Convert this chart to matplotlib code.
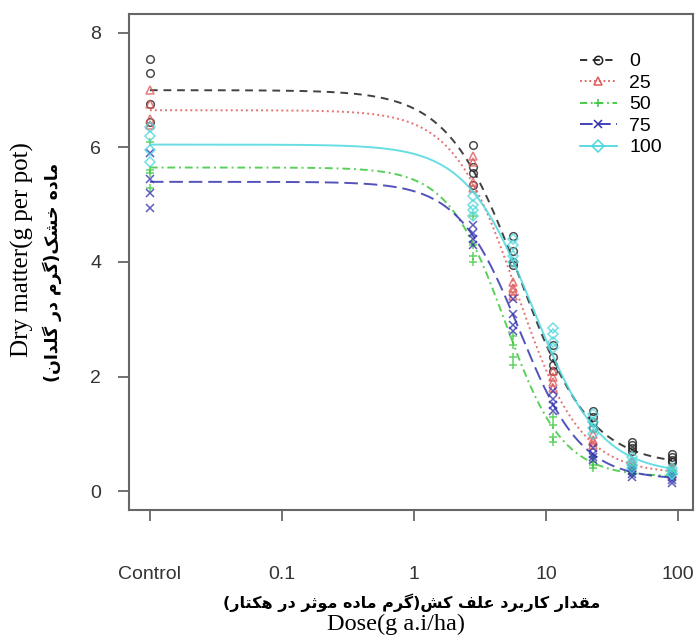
"""Dry matter dose-response curves (log-logistic fits) for five rates, drc-style plot."""
import numpy as np
import matplotlib
matplotlib.use("Agg")
import matplotlib.pyplot as plt

plt.rcParams.update({"font.family": ["Liberation Sans", "DejaVu Sans"]})

# doses (g a.i./ha); the control is drawn at 0.01 on the log axis
doses = [0.01, 2.8125, 5.625, 11.25, 22.5, 45, 90]
series = ["0", "25", "50", "75", "100"]

obs_0 = [[7.55, 7.3, 6.75, 6.45], [6.05, 5.65, 5.55, 5.35], [4.45, 4.2, 4.0, 3.95],
         [2.55, 2.35, 2.2, 2.1], [1.4, 1.3, 1.2, 1.1], [0.85, 0.8, 0.75, 0.7],
         [0.65, 0.6, 0.55, 0.5]]
obs_25 = [[7.0, 6.75, 6.5, 6.4], [5.85, 5.75, 5.4, 5.3], [3.65, 3.55, 3.5, 3.4],
          [2.1, 2.0, 1.9, 1.8], [1.0, 0.9, 0.85, 0.8], [0.55, 0.5, 0.45, 0.4],
          [0.4, 0.35, 0.3, 0.3]]
obs_50 = [[6.1, 5.6, 5.55, 5.3], [4.8, 4.3, 4.1, 4.0], [2.7, 2.55, 2.35, 2.2],
          [1.3, 1.15, 0.95, 0.85], [0.6, 0.5, 0.45, 0.4], [0.4, 0.35, 0.3, 0.3],
          [0.35, 0.3, 0.25, 0.25]]
obs_75 = [[5.9, 5.45, 5.2, 4.95], [4.65, 4.5, 4.4, 4.3], [3.35, 3.1, 2.9, 2.8],
          [1.75, 1.6, 1.5, 1.4], [0.75, 0.65, 0.6, 0.55], [0.4, 0.35, 0.3, 0.25],
          [0.3, 0.25, 0.2, 0.15]]
obs_100 = [[6.35, 6.2, 5.95, 5.75], [5.15, 5.0, 4.9, 4.8], [4.4, 4.3, 4.1, 4.0],
           [2.85, 2.75, 2.6, 2.5], [1.35, 1.2, 1.1, 1.0], [0.6, 0.5, 0.45, 0.4],
           [0.4, 0.35, 0.3, 0.3]]

# LL.4 fit parameters per series: slope b, lower c, upper d, ED50 e
slope_b = [1.61, 1.8, 2.0, 1.86, 1.7]
lower_c = [0.45, 0.3, 0.25, 0.2, 0.3]
upper_d = [7.0, 6.65, 5.65, 5.4, 6.05]
ed50_e = [6.3, 6.0, 4.9, 6.3, 8.0]

xticks = [0.01, 0.1, 1, 10, 100]
xticklabels = ["Control", "0.1", "1", "10", "100"]
yticks = [0, 2, 4, 6, 8]

colors = ["#202020", "#E05A5A", "#3CC83C", "#3434B0", "#4ED8DE"]
markers = ["o", "^", "+", "x", "D"]
styles = [(0, (4, 3)), (0, (1, 1.6)), (0, (4, 2, 1, 2)), (0, (7, 3)), "-"]

# Persian presentation forms: isolated, final, initial, medial
FORMS = {
    "\u0627": ("\uFE8D", "\uFE8E", None, None),
    "\u0628": ("\uFE8F", "\uFE90", "\uFE91", "\uFE92"),
    "\u062A": ("\uFE95", "\uFE96", "\uFE97", "\uFE98"),
    "\u062B": ("\uFE99", "\uFE9A", "\uFE9B", "\uFE9C"),
    "\u062E": ("\uFEA5", "\uFEA6", "\uFEA7", "\uFEA8"),
    "\u062F": ("\uFEA9", "\uFEAA", None, None),
    "\u0631": ("\uFEAD", "\uFEAE", None, None),
    "\u0634": ("\uFEB5", "\uFEB6", "\uFEB7", "\uFEB8"),
    "\u0639": ("\uFEC9", "\uFECA", "\uFECB", "\uFECC"),
    "\u0641": ("\uFED1", "\uFED2", "\uFED3", "\uFED4"),
    "\u0642": ("\uFED5", "\uFED6", "\uFED7", "\uFED8"),
    "\u0644": ("\uFEDD", "\uFEDE", "\uFEDF", "\uFEE0"),
    "\u0645": ("\uFEE1", "\uFEE2", "\uFEE3", "\uFEE4"),
    "\u0646": ("\uFEE5", "\uFEE6", "\uFEE7", "\uFEE8"),
    "\u0647": ("\uFEE9", "\uFEEA", "\uFEEB", "\uFEEC"),
    "\u0648": ("\uFEED", "\uFEEE", None, None),
    "\u06A9": ("\uFB8E", "\uFB8F", "\uFB90", "\uFB91"),
    "\u0643": ("\uFB8E", "\uFB8F", "\uFB90", "\uFB91"),
    "\u06AF": ("\uFB92", "\uFB93", "\uFB94", "\uFB95"),
}


def shape(s):
    """Join Persian letters and lay them out right to left (no bidi lib here)."""
    out = []
    for i, ch in enumerate(s):
        f = FORMS.get(ch)
        if f is None:
            out.append(ch)
            continue
        prev = s[i - 1] if i > 0 else ""
        nxt = s[i + 1] if i + 1 < len(s) else ""
        jp = prev in FORMS and FORMS[prev][2] is not None
        jn = f[2] is not None and nxt in FORMS
        out.append(f[3] if jp and jn else f[1] if jp else f[2] if jn else f[0])
    return "".join(reversed(out)).translate(str.maketrans("()", ")("))


xlab_fa = "مقدار کاربرد علف کش(گرم ماده موثر در هکتار)"
ylab_fa = "ماده خشک(گرم در گلدان)"


def ll4(x, b, c, d, e):
    return c + (d - c) / (1 + np.exp(b * (np.log(x) - np.log(e))))


fig = plt.figure(figsize=(6.95, 6.37), dpi=100)
ax = fig.add_axes([129 / 695, 1 - 510 / 637, 564 / 695, 496 / 637])

xs = np.logspace(np.log10(doses[0]), np.log10(doses[-1]), 300)
all_obs = [obs_0, obs_25, obs_50, obs_75, obs_100]
for k, name in enumerate(series):
    px = np.repeat(doses, 4)
    py = np.ravel(all_obs[k])
    ax.plot(px, py, ls="none", marker=markers[k], mfc="none", mec=colors[k],
            ms=5.5, mew=1.1, alpha=0.8)
    ax.plot(xs, ll4(xs, slope_b[k], lower_c[k], upper_d[k], ed50_e[k]),
            color=colors[k], ls=styles[k], lw=1.4, alpha=0.85)
    ax.plot([], [], color=colors[k], ls=styles[k], lw=1.3, marker=markers[k],
            mfc="none", mec=colors[k], ms=6, mew=1.1, label=name)

ax.set_xscale("log")
ax.set_xlim(10 ** -2.158, 10 ** 2.112)
ax.set_ylim(-0.33, 8.33)
ax.set_xticks(xticks)
ax.set_xticklabels(xticklabels)
ax.minorticks_off()
ax.set_yticks(yticks)
for sp in ax.spines.values():
    sp.set_color("#666666")
    sp.set_linewidth(1.5)
ax.tick_params(axis="both", colors="#666666", labelcolor="#333333",
               length=8, width=1.3, labelsize=14)
ax.tick_params(axis="x", pad=32)
ax.tick_params(axis="y", pad=12)

ax.legend(loc="upper left", bbox_to_anchor=(570 / 695, 1 - 43 / 637),
          bbox_transform=fig.transFigure, frameon=False, fontsize=14,
          handlelength=1.9, handletextpad=0.65, labelspacing=0.2, borderpad=0)

fig.text(22 / 695, 1 - 250 / 637, "Dry matter(g per pot)", rotation=90,
         ha="center", va="center", family="Liberation Serif", fontsize=18)
fig.text(52 / 695, 1 - 272 / 637, shape(ylab_fa), rotation=90,
         ha="center", va="center", family="DejaVu Sans", fontsize=12.5,
         fontweight="bold")
fig.text(412 / 695, 1 - 603 / 637, shape(xlab_fa), ha="center", va="center",
         family="DejaVu Sans", fontsize=11.5, fontweight="bold")
fig.text(396 / 695, 1 - 624 / 637, "Dose(g a.i/ha)", ha="center", va="center",
         family="Liberation Serif", fontsize=17.5)

fig.savefig("out.png", dpi=100)
